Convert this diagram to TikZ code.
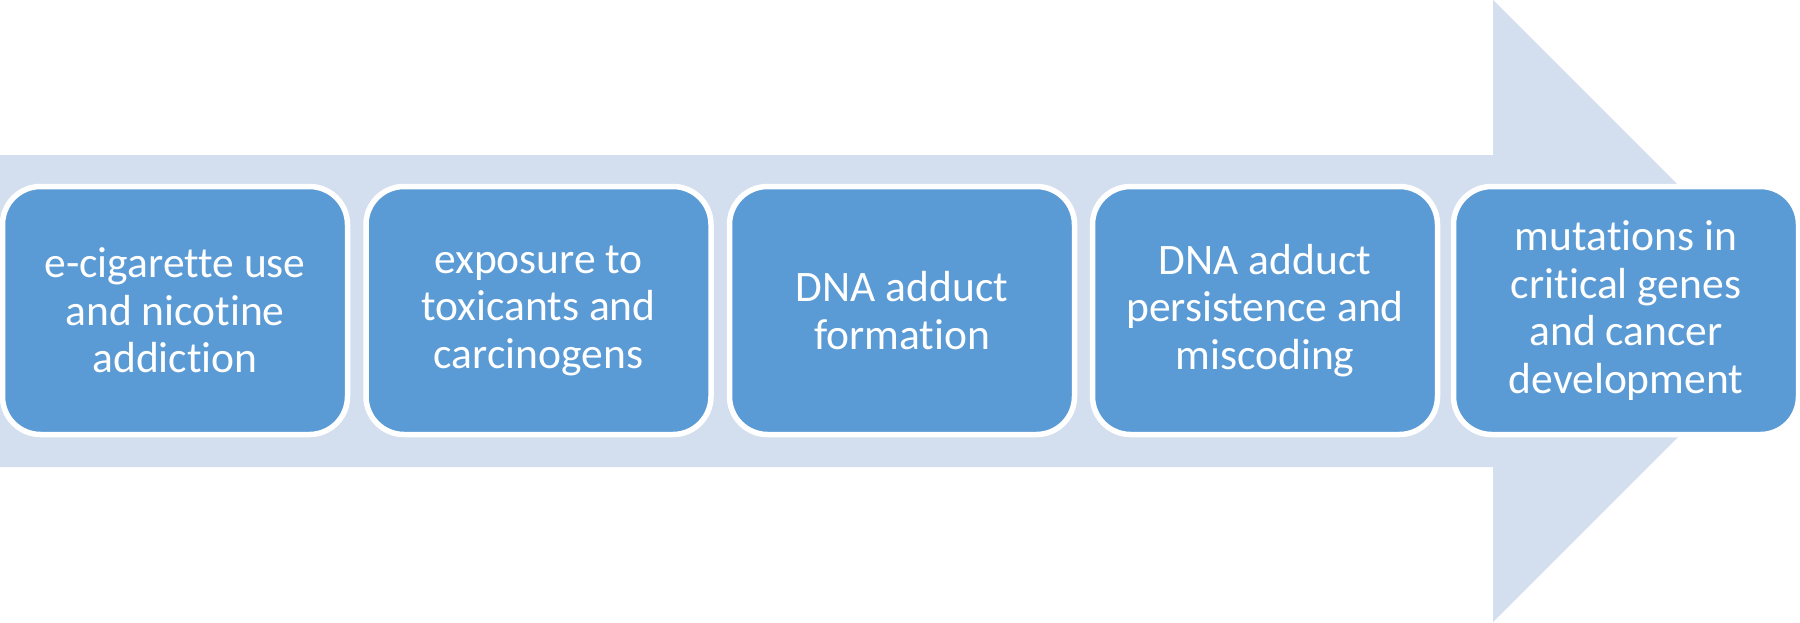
\documentclass[tikz,border=0pt]{standalone}
\usepackage{fontspec}
\setmainfont[Ligatures=NoCommon]{Carlito}
\definecolor{arrowbg}{RGB}{211,222,238}
\definecolor{boxfill}{RGB}{91,155,213}
\begin{document}
\begin{tikzpicture}[x=1pt,y=-1pt,
  stepbox/.style={draw=white, line width=5.5pt, fill=boxfill, rounded corners=38pt,
    minimum width=345pt, minimum height=248pt, inner sep=0pt, align=center,
    text=white, font=\fontsize{43.5}{47.5}\selectfont}]
\useasboundingbox (0,0) rectangle (1800,622);
\begin{scope}
\clip (0,0) rectangle (1800,622);
\fill[arrowbg] (0,155) -- (1493,155) -- (1493,0) -- (1804,311) -- (1493,622) -- (1493,467) -- (0,467) -- cycle;
\end{scope}
\node[stepbox] (s1) at (175,310.5) {e-cigarette use\\and nicotine\\addiction};
\node[stepbox] (s2) at (538.5,310.5) {exposure to\\toxicants and\\carcinogens};
\node[stepbox] (s3) at (902,310.5) {DNA adduct\\formation};
\node[stepbox] (s4) at (1265,310.5) {DNA adduct\\persistence and\\miscoding};
\node[stepbox] (s5) at (1626,310.5) {mutations in\\critical genes\\and cancer\\development};
\end{tikzpicture}
\end{document}
